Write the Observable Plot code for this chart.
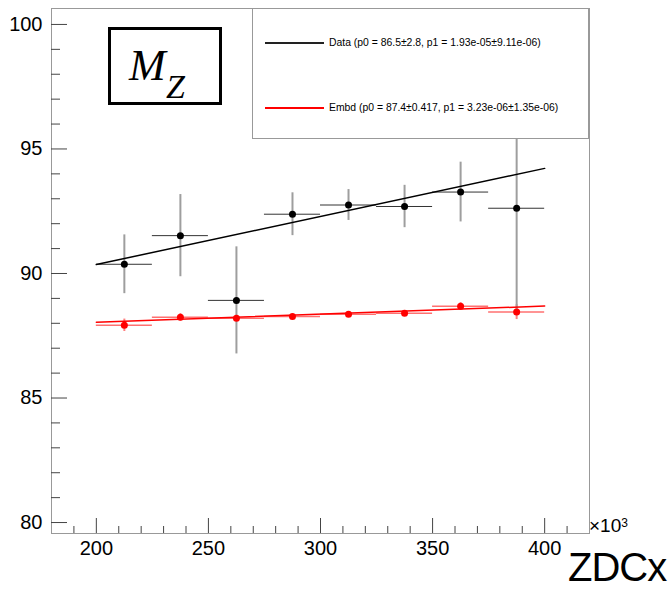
<!DOCTYPE html>
<html>
<head>
<meta charset="utf-8">
<script src="https://cdn.jsdelivr.net/npm/d3@7"></script>
<script src="https://cdn.jsdelivr.net/npm/@observablehq/plot@0.6"></script>
<style>
  body { margin: 0; background: #fff; }
  #wrap { position: relative; width: 669px; height: 589px; font-family: "Liberation Sans", Arial, sans-serif; }
  #legend { position: absolute; left: 252px; top: 8px; width: 337px; height: 131px; box-sizing: border-box; border: 1px solid #999; background: #fff; }
  .lrow { position: absolute; left: 0; width: 100%; height: 14px; }
  .lline { position: absolute; left: 12px; width: 59px; top: 6px; height: 2px; }
  .ltext { position: absolute; left: 76px; top: 0; font-size: 10.4px; line-height: 14px; color: #000; white-space: nowrap; }
  #mz { position: absolute; left: 108px; top: 27px; width: 114px; height: 78px; box-sizing: border-box; border: 3px solid #000; background: #fff; font-family: "Liberation Serif", "DejaVu Serif", serif; font-style: italic; }
  #mz .m { position: absolute; left: 18px; top: 14px; font-size: 44px; line-height: 44px; }
  #mz .z { position: absolute; left: 55px; top: 40px; font-size: 34px; line-height: 34px; }
  #xmul { position: absolute; left: 589px; top: 516px; font-size: 19px; line-height: 20px; }
  #xmul sup { font-size: 12px; position: relative; top: -3px; vertical-align: top; }
  #xlab { position: absolute; left: 568px; top: 545px; font-size: 40px; line-height: 44px; letter-spacing: -1px; }
</style>
</head>
<body>
<div id="wrap"></div>
<script>
// bins of ZDCx (in units of 10^3)
const binCenters = [212.5, 237.5, 262.5, 287.5, 312.5, 337.5, 362.5, 387.5];
const binHalfWidth = 12.5;
// Data series: M_Z and its error
const dataMz  = [90.37, 91.52, 88.92, 92.38, 92.75, 92.69, 93.27, 92.62];
const dataErr = [1.18, 1.65, 2.15, 0.86, 0.62, 0.85, 1.20, 4.10];
// Embedding series
const embdMz  = [87.92, 88.24, 88.20, 88.27, 88.36, 88.40, 88.68, 88.45];
const embdErr = [0.25, 0.15, 0.12, 0.08, 0.08, 0.10, 0.15, 0.30];
// linear fits, range in 10^3 units
const fitRange = [200, 400];
const dataFit = {p0: 86.5, p1: 1.93e-05};
const embdFit = {p0: 87.4, p1: 3.23e-06};
// axes
const xTickLabels = [200, 250, 300, 350, 400];
const yTickLabels = [80, 85, 90, 95, 100];
const xDomain = [180, 420];
const yDomain = [79.56, 100.64];

const dataRows = binCenters.map((x, i) => ({x, y: dataMz[i], e: dataErr[i]}));
const embdRows = binCenters.map((x, i) => ({x, y: embdMz[i], e: embdErr[i]}));
const fitRows = (f) => fitRange.map(x => ({x, y: f.p0 + f.p1 * x * 1000}));

const xMinor = d3.range(190, 420, 10).filter(v => !xTickLabels.includes(v));
const yMinor = d3.range(80, 101, 1).filter(v => !yTickLabels.includes(v));

const chart = Plot.plot({
  width: 669, height: 589,
  marginLeft: 51, marginRight: 80, marginTop: 8, marginBottom: 56,
  style: {fontFamily: "Liberation Sans, Arial, sans-serif", background: "#fff", color: "#000"},
  x: {domain: xDomain},
  y: {domain: yDomain},
  marks: [
    Plot.frame({stroke: "#999"}),
    Plot.axisY({ticks: yTickLabels, tickSize: -16, tickFormat: () => "", label: null, stroke: "#444"}),
    Plot.axisY({ticks: yMinor, tickSize: -9, tickFormat: () => "", label: null, stroke: "#444"}),
    Plot.axisY({ticks: yTickLabels, tickSize: 0, tickPadding: 9, fontSize: 20, label: null, tickFormat: d => String(d)}),
    Plot.axisX({ticks: xTickLabels, tickSize: -15, tickFormat: () => "", label: null, stroke: "#444"}),
    Plot.axisX({ticks: xMinor, tickSize: -7, tickFormat: () => "", label: null, stroke: "#444"}),
    Plot.axisX({ticks: xTickLabels, tickSize: 0, tickPadding: 7, fontSize: 20, label: null, tickFormat: d => String(d)}),
    // Embd error bars
    Plot.ruleY(embdRows, {y: "y", x1: d => d.x - binHalfWidth, x2: d => d.x + binHalfWidth, stroke: "#ff7070", strokeWidth: 1.5}),
    Plot.ruleX(embdRows, {x: "x", y1: d => d.y - d.e, y2: d => d.y + d.e, stroke: "#ff8080", strokeWidth: 2}),
    // Data error bars
    Plot.ruleX(dataRows, {x: "x", y1: d => d.y - d.e, y2: d => d.y + d.e, stroke: "#9e9e9e", strokeWidth: 2}),
    Plot.ruleY(dataRows, {y: "y", x1: d => d.x - binHalfWidth, x2: d => d.x + binHalfWidth, stroke: "#333", strokeWidth: 1}),
    // fits
    Plot.line(fitRows(dataFit), {x: "x", y: "y", stroke: "#000", strokeWidth: 1.5}),
    Plot.line(fitRows(embdFit), {x: "x", y: "y", stroke: "#ff0000", strokeWidth: 1.5}),
    // points
    Plot.dot(dataRows, {x: "x", y: "y", r: 3.5, fill: "#000", stroke: null}),
    Plot.dot(embdRows, {x: "x", y: "y", r: 3.5, fill: "#ff0000", stroke: null})
  ]
});

const wrap = document.getElementById("wrap");
wrap.appendChild(chart);

const legendEntries = [
  {label: "Data (p0 = 86.5\u00b12.8, p1 = 1.93e-05\u00b19.11e-06)", color: "#222", top: 27},
  {label: "Embd (p0 = 87.4\u00b10.417, p1 = 3.23e-06\u00b11.35e-06)", color: "#ff0000", top: 92}
];
const legend = document.createElement("div");
legend.id = "legend";
for (const e of legendEntries) {
  const row = document.createElement("div");
  row.className = "lrow";
  row.style.top = e.top + "px";
  const ln = document.createElement("div");
  ln.className = "lline";
  ln.style.background = e.color;
  const tx = document.createElement("div");
  tx.className = "ltext";
  tx.textContent = e.label;
  row.appendChild(ln); row.appendChild(tx);
  legend.appendChild(row);
}
wrap.appendChild(legend);

const mz = document.createElement("div");
mz.id = "mz";
mz.innerHTML = '<span class="m">M</span><span class="z">Z</span>';
wrap.appendChild(mz);

const xmul = document.createElement("div");
xmul.id = "xmul";
xmul.innerHTML = "\u00d710<sup>3</sup>";
wrap.appendChild(xmul);

const xlab = document.createElement("div");
xlab.id = "xlab";
xlab.textContent = "ZDCx";
wrap.appendChild(xlab);
</script>
</body>
</html>
